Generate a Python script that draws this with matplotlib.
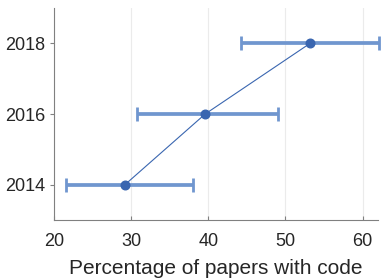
import numpy as np
from matplotlib import pyplot as plt

plt.rcParams['font.family'] = ['Liberation Sans', 'DejaVu Sans']

# data
years = [2014, 2016, 2018]
pct = [29.2, 39.6, 53.2]
err_lo = [21.5, 30.7, 44.2]
err_hi = [38.0, 49.0, 62.1]

pct = np.array(pct)
xerr = [pct - np.array(err_lo), np.array(err_hi) - pct]

fig = plt.figure(figsize=(3.9, 2.79), dpi=100)
ax = fig.add_axes([54 / 390, 1 - 220 / 279, (378 - 54) / 390, (220 - 8) / 279])

eb = ax.errorbar(pct, years, xerr=xerr, fmt='none', ecolor='#7096cf',
				 elinewidth=2.7, capsize=5, capthick=2, zorder=2)
# keep the right-hand cap visible at the axis edge
for art in eb.lines[1] + eb.lines[2]:
	art.set_clip_on(False)
ax.plot(pct, years, color='#3a66b0', lw=0.8, zorder=3)
ax.plot(pct, years, 'o', color='#3a66b0', ms=6.2, zorder=4)

ax.set_xlim(20, 62)
ax.set_ylim(2013, 2019)
ax.set_xticks([20, 30, 40, 50, 60])
ax.set_yticks(years)
ax.grid(axis='x', color='#ebebeb', lw=0.8, zorder=0)
ax.set_axisbelow(True)

for s in ['top', 'right']:
	ax.spines[s].set_visible(False)
for s in ['left', 'bottom']:
	ax.spines[s].set_color('#808080')
	ax.spines[s].set_linewidth(0.8)

ax.tick_params(axis='x', direction='in', length=3, color='#808080',
			   labelsize=13, labelcolor='#262626', pad=9)
ax.tick_params(axis='y', direction='out', length=3, color='#808080',
			   labelsize=13, labelcolor='#262626')
ax.set_xlabel('Percentage of papers with code', fontsize=15, color='#262626', labelpad=7)

fig.savefig('out.png', dpi=100)
